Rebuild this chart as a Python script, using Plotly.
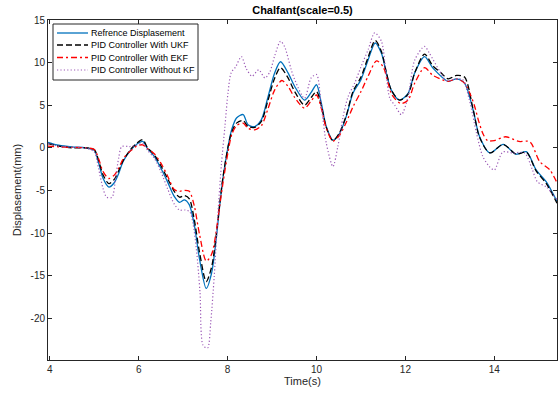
import plotly.graph_objects as go

# ---- data ----
t_ref = [3.96, 4.2, 4.5, 4.8, 5.0, 5.1, 5.2, 5.33, 5.45, 5.55, 5.65, 5.83, 5.95, 6.09, 6.2, 6.35,
         6.5, 6.65, 6.8, 6.92, 7.03, 7.14, 7.25, 7.37, 7.52, 7.64, 7.75, 7.82, 7.9, 8.01, 8.09,
         8.2, 8.35, 8.46, 8.61, 8.76, 8.91, 9.06, 9.19, 9.36, 9.51, 9.73, 9.88, 10.0, 10.11,
         10.22, 10.37, 10.52, 10.67, 10.82, 11.0, 11.16, 11.32, 11.46, 11.57, 11.68, 11.87,
         12.06, 12.21, 12.43, 12.62, 12.96, 13.15, 13.33, 13.52, 13.67, 13.9, 14.2, 14.49,
         14.72, 14.94, 15.17, 15.41]
y_ref = [0.65, 0.3, 0.1, 0.0, -0.3, -1.8, -3.6, -4.6, -4.1, -3.0, -1.6, -0.2, 0.4, 0.75, -0.1, -1.0,
         -2.4, -4.0, -5.7, -6.4, -6.1, -6.7, -9.0, -13.1, -16.5, -14.7, -10.4, -6.9, -3.4, 0.15, 2.1,
         3.5, 3.9, 2.7, 2.5, 3.3, 6.0, 8.8, 10.1, 8.8, 7.2, 5.6, 6.5, 7.4, 5.2,
         2.5, 0.9, 1.7, 3.7, 6.4, 8.0, 10.3, 12.3, 11.1, 8.8, 6.8, 5.6,
         6.4, 8.8, 10.7, 9.35, 7.8, 8.1, 7.6, 4.5, 1.3, -0.6, 0.4, -0.75,
         -0.45, -2.6, -4.0, -6.3]

t_ukf = [3.96, 4.2, 4.5, 4.8, 5.0, 5.1, 5.2, 5.33, 5.45, 5.55, 5.65, 5.83, 5.95, 6.09, 6.2, 6.35,
         6.5, 6.65, 6.8, 6.92, 7.03, 7.14, 7.25, 7.37, 7.52, 7.64, 7.75, 7.82, 7.9, 8.01, 8.09,
         8.2, 8.35, 8.46, 8.61, 8.76, 8.91, 9.06, 9.19, 9.36, 9.51, 9.73, 9.88, 10.0, 10.11,
         10.22, 10.37, 10.52, 10.67, 10.82, 11.0, 11.16, 11.32, 11.46, 11.57, 11.68, 11.87,
         12.06, 12.21, 12.43, 12.62, 12.8, 12.96, 13.15, 13.33, 13.52, 13.67, 13.9, 14.2, 14.49,
         14.72, 14.94, 15.17, 15.41]
y_ukf = [0.5, 0.2, 0.0, 0.0, -0.2, -1.5, -3.2, -4.2, -3.7, -2.7, -1.5, -0.1, 0.5, 0.95, 0.0, -0.8,
         -2.1, -3.6, -5.1, -5.8, -5.6, -6.0, -8.4, -12.3, -15.7, -14.0, -10.0, -6.7, -3.3, 0.1, 1.8,
         2.9, 3.2, 2.5, 2.4, 3.1, 5.6, 8.2, 9.4, 8.2, 6.6, 5.0, 5.9, 6.6, 4.9,
         2.4, 0.85, 1.8, 3.8, 6.6, 8.3, 10.6, 12.6, 11.3, 8.9, 6.8, 5.6,
         6.3, 8.8, 11.0, 9.6, 8.8, 8.1, 8.5, 8.3, 4.6, 1.2, -0.6, 0.4, -0.75,
         -0.5, -2.7, -4.2, -6.5]

t_ekf = [3.96, 4.2, 4.5, 4.8, 5.0, 5.1, 5.2, 5.33, 5.45, 5.55, 5.65, 5.83, 5.95, 6.09, 6.2, 6.35,
         6.5, 6.65, 6.8, 6.92, 7.03, 7.14, 7.25, 7.37, 7.52, 7.64, 7.75, 7.82, 7.9, 8.01, 8.09,
         8.2, 8.35, 8.46, 8.61, 8.76, 8.91, 9.06, 9.22, 9.36, 9.51, 9.73, 9.88, 10.0, 10.11,
         10.22, 10.37, 10.52, 10.67, 10.82, 11.0, 11.16, 11.35, 11.5, 11.6, 11.7, 11.9,
         12.06, 12.21, 12.43, 12.62, 12.96, 13.15, 13.33, 13.45, 13.55, 13.65, 13.75, 13.85,
         14.0, 14.25, 14.55, 14.8, 15.02, 15.25, 15.41]
y_ekf = [0.2, 0.1, 0.05, 0.0, -0.2, -1.3, -2.8, -3.6, -3.2, -2.4, -1.3, -0.3, 0.2, 0.35, -0.1, -0.7,
         -1.8, -3.3, -4.9, -5.1, -5.0, -5.1, -6.8, -10.2, -13.3, -12.5, -9.6, -6.9, -4.0, -0.5, 1.5,
         2.6, 2.9, 2.3, 2.1, 2.6, 4.6, 6.8, 7.9, 7.2, 5.9, 4.65, 5.5, 6.2, 4.6,
         2.3, 0.8, 1.5, 3.0, 4.8, 6.6, 8.4, 10.2, 9.5, 7.8, 6.2, 5.2,
         5.6, 7.6, 9.4, 8.5, 7.8, 8.1, 7.6, 6.4, 5.0, 3.1, 1.6, 0.85,
         0.85, 1.3, 0.75, 0.7, -1.6, -2.6, -4.1]

t_nokf = [3.96, 4.2, 4.5, 4.8, 5.0, 5.1, 5.2, 5.28, 5.4, 5.48, 5.55, 5.62, 5.8, 5.95, 6.09, 6.2,
          6.35, 6.5, 6.65, 6.8, 6.92, 7.05, 7.15, 7.22, 7.3, 7.38, 7.45, 7.55, 7.62, 7.7, 7.78,
          7.86, 7.94, 8.01, 8.08, 8.18, 8.31, 8.42, 8.55, 8.7, 8.84, 8.95, 9.06, 9.19, 9.28,
          9.43, 9.51, 9.73, 9.88, 10.0, 10.11, 10.22, 10.37, 10.48, 10.6, 10.71, 10.86, 11.0,
          11.16, 11.31, 11.46, 11.57, 11.65, 11.76, 11.91, 12.06, 12.21, 12.43, 12.54, 12.77,
          12.92, 13.15, 13.29, 13.44, 13.6, 13.74, 13.89, 14.0, 14.19, 14.42, 14.68, 14.85,
          14.97, 15.17, 15.41]
y_nokf = [0.5, 0.2, 0.05, 0.0, -0.5, -2.5, -4.8, -5.8, -5.8, -3.5, -1.2, 0.15, 0.15, 0.3, 0.5, -0.3,
          -1.2, -2.8, -4.8, -6.6, -7.3, -7.3, -7.5, -8.8, -12.0, -17.0, -23.2, -23.5, -20.5, -15.0, -8.0,
          -2.0, 2.5, 6.5, 8.8, 9.5, 10.7, 9.3, 8.4, 9.15, 8.2, 8.9, 10.8, 12.5, 11.9,
          9.2, 8.0, 5.8, 8.2, 8.6, 4.85, 0.55, -2.2, 0.15, 3.7, 6.0, 7.6, 9.5,
          11.5, 13.5, 12.5, 8.4, 5.8, 5.0, 3.9, 6.0, 10.3, 11.9, 11.1, 9.0,
          7.9, 8.1, 8.0, 5.6, 1.7, -1.0, -2.2, -2.6, -0.5, -0.6, -0.6, -2.5,
          -4.0, -4.6, -6.1]

names = ["Refrence Displasement", "PID Controller With UKF",
         "PID Controller With EKF", "PID Controller Without KF"]
x_ticks = [4, 6, 8, 10, 12, 14]
y_ticks = [-20, -15, -10, -5, 0, 5, 10, 15]

FONT = "Liberation Sans, Arial, Helvetica, sans-serif"
AX = "#262626"
W, H = 558, 396
ML, MR, MT, MB = 48, 1, 20, 36

styles = [
    dict(color="#0072BD", width=1.3, dash="solid"),
    dict(color="#000000", width=1.3, dash="6px,3px"),
    dict(color="#FF0000", width=1.3, dash="6px,3px,2px,3px"),
    dict(color="#9B59B6", width=1.2, dash="1.2px,2.2px"),
]
series = [(t_ref, y_ref), (t_ukf, y_ukf), (t_ekf, y_ekf), (t_nokf, y_nokf)]

fig = go.Figure()
for (tx, ty), nm, st in zip(series, names, styles):
    fig.add_trace(go.Scatter(x=tx, y=ty, name=nm, mode="lines", showlegend=False,
                             line=dict(color=st["color"], width=st["width"], dash=st["dash"],
                                       shape="spline", smoothing=0.8)))

# ---- compact MATLAB-style legend (layout decoration in paper coords) ----
pw, ph = W - ML - MR, H - MT - MB
def px(xp):
    return (xp - ML) / pw
def py(yp):
    return 1 - (yp - MT) / ph

shapes = [dict(type="rect", xref="paper", yref="paper",
               x0=px(53), x1=px(198), y0=py(80), y1=py(24),
               line=dict(color=AX, width=1), fillcolor="white", layer="above")]
annotations = []
rows = [33, 45, 57.5, 70]
for nm, st, yr in zip(names, styles, rows):
    shapes.append(dict(type="line", xref="paper", yref="paper",
                       x0=px(57), x1=px(88), y0=py(yr), y1=py(yr), layer="above",
                       line=dict(color=st["color"], width=st["width"], dash=st["dash"])))
    annotations.append(dict(text=nm, xref="paper", yref="paper", x=px(89), y=py(yr),
                            xanchor="left", yanchor="middle", showarrow=False,
                            font=dict(family=FONT, size=9, color="#000000")))

axis_common = dict(showline=True, linecolor=AX, linewidth=1, mirror="ticks", ticks="inside",
                   ticklen=4, tickcolor=AX, tickwidth=1, showgrid=False, zeroline=False,
                   automargin=False, tickfont=dict(family=FONT, size=10, color=AX))

fig.update_layout(
    width=W, height=H,
    margin=dict(l=ML, r=MR, t=MT, b=MB, autoexpand=False),
    paper_bgcolor="white", plot_bgcolor="white",
    font=dict(family=FONT, size=10, color=AX),
    title=dict(text="<b>Chalfant(scale=0.5)</b>", x=0.5, xref="paper", xanchor="center",
               y=1 - 10 / H, yanchor="middle", yref="container", automargin=False,
               font=dict(family=FONT, size=11, color="#000000")),
    xaxis=dict(range=[3.96, 15.41], tickvals=x_ticks, ticktext=[str(v) for v in x_ticks],
               title=dict(text="Time(s)", font=dict(family=FONT, size=11, color=AX), standoff=2),
               **axis_common),
    yaxis=dict(range=[-24.9, 15], tickvals=y_ticks, ticktext=[str(v) for v in y_ticks],
               title=dict(text="Displasement(mm)", font=dict(family=FONT, size=11, color=AX), standoff=6),
               **axis_common),
    shapes=shapes,
    annotations=annotations,
    showlegend=False,
)

fig.write_html("out.html", config={"displayModeBar": False, "staticPlot": True},
               post_script="document.body.style.margin='0';document.body.style.overflow='hidden';")
